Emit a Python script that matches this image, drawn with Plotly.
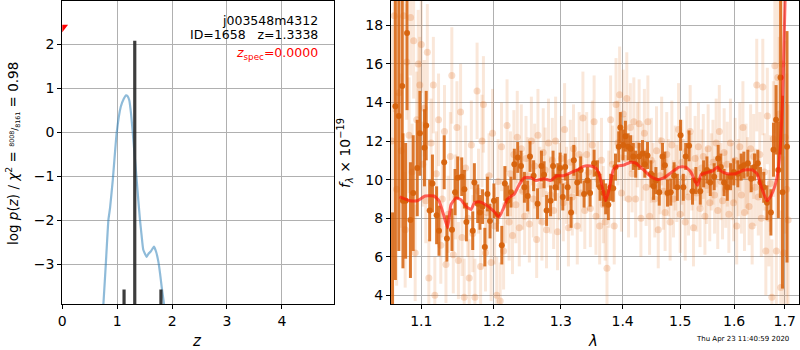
import plotly.graph_objects as go

# ---------------- left panel: p(z) ----------------
pz_z = [0.74, 0.75, 0.79, 0.84, 0.87, 0.92, 0.99, 1.065, 1.12, 1.16, 1.19, 1.22, 1.25, 1.28,
        1.32, 1.355, 1.385, 1.415, 1.445, 1.475, 1.537, 1.57, 1.61, 1.67, 1.71, 1.75, 1.78,
        1.81, 1.85, 1.86]
pz_logp = [-4.05, -3.88, -3.05, -1.99, -1.72, -1.08, -0.02, 0.58, 0.76, 0.84, 0.82, 0.73, 0.45, 0.05,
           -0.55, -1.08, -1.55, -1.99, -2.35, -2.67, -2.83, -2.76, -2.71, -2.6, -2.72, -2.94, -3.2,
           -3.51, -3.88, -4.05]
bar_z = [1.125, 1.32, 1.797]
bar_top = [-3.57, 2.08, -3.57]
zspec_marker = [0.0, 2.39]

# ---------------- right panel: spectrum ----------------
dark_lam = [1.0628, 1.0664, 1.0708, 1.0752, 1.0761, 1.0796, 1.0814, 1.0858, 1.0894, 1.0947, 1.0982,
            1.1042, 1.1065, 1.1111, 1.1148, 1.1204, 1.1236, 1.1306, 1.1343, 1.1412, 1.1454, 1.1491,
            1.1546, 1.1583, 1.1611, 1.1699, 1.1722, 1.1769, 1.1801, 1.1838, 1.1870, 1.1907, 1.1944,
            1.2000, 1.2050, 1.2114, 1.2158, 1.2198, 1.2248, 1.2297, 1.2347, 1.2396, 1.2446, 1.2495,
            1.2530, 1.2584, 1.2644, 1.2703, 1.2743, 1.2782, 1.2842, 1.2881, 1.2916, 1.2955, 1.2990,
            1.3032, 1.3070, 1.3108, 1.3162, 1.3205, 1.3259, 1.3314, 1.3368, 1.3422, 1.3465, 1.3530,
            1.3584, 1.3627, 1.3681, 1.3719, 1.3762, 1.3800, 1.3843, 1.3881, 1.3935, 1.3962, 1.4006,
            1.4047, 1.4093, 1.4134, 1.4180, 1.4221, 1.4279, 1.4337, 1.4378, 1.4424, 1.4483, 1.4529,
            1.4570, 1.4628, 1.4686, 1.4727, 1.4773, 1.4831, 1.4890, 1.4948, 1.5006, 1.5056, 1.5099,
            1.5160, 1.5222, 1.5284, 1.5364, 1.5426, 1.5488, 1.5550, 1.5623, 1.5698, 1.5747, 1.5809,
            1.5870, 1.5932, 1.5994, 1.6071, 1.6136, 1.6188, 1.6266, 1.6331, 1.6396, 1.6461, 1.6513,
            1.6578, 1.6643, 1.6721, 1.6773, 1.6825, 1.6870, 1.6916, 1.6955, 1.7047]
dark_flux = [3.0, 13.8, 13.3, 14.85, 8.9, 8.9, 17.6, 7.9, 9.3, 10.6, 12.4,
             11.65, 12.8, 8.4, 9.8, 8.15, 7.35, 10.9, 6.95, 7.4, 9.35, 10.1,
             10.15, 9.5, 7.8, 7.35, 9.85, 8.75, 8.3, 8.6, 6.5, 9.25, 7.85,
             8.9, 8.2, 6.6, 9.8, 8.9, 9.35, 10.8, 11.15, 10.7, 9.6, 9.15,
             11.2, 10.2, 8.75, 10.7, 10.25, 8.4, 8.9, 10.7, 9.6, 10.15, 10.6,
             9.1, 10.65, 9.6, 8.3, 11.0, 9.85, 10.5, 9.25, 9.95, 9.3, 10.85,
             10.3, 9.6, 9.3, 9.0, 8.7, 9.6, 9.55, 10.65, 11.7, 12.7, 11.8,
             12.25, 11.7, 11.6, 11.2, 10.8, 11.2, 11.35, 10.8, 11.25, 10.3, 9.65,
             9.95, 9.35, 11.2, 10.75, 9.3, 9.35, 10.2, 9.6, 12.3, 9.6, 11.2,
             11.75, 9.4, 9.95, 9.4, 10.3, 10.5, 9.85, 10.15, 11.1, 10.65, 9.85,
             9.6, 10.15, 10.4, 10.3, 10.65, 10.75, 10.85, 10.05, 10.65, 10.85, 9.85,
             9.6, 8.8, 8.3, 11.55, 13.1, 10.5, 15.3, 9.35, 11.7]
dark_err = [5.3, 9.0, 7.0, 6.0, 3.5, 3.0, 4.0, 3.0, 3.0, 2.5, 2.2,
            2.0, 1.8, 1.6, 1.5, 1.5, 1.3, 1.4, 1.2, 1.1, 1.2, 1.1,
            1.0, 1.0, 1.0, 1.0, 1.0, 1.0, 0.9, 0.9, 1.0, 0.9, 0.9,
            0.9, 0.9, 1.0, 0.9, 0.8, 0.8, 0.8, 0.8, 0.8, 0.8, 0.8,
            0.8, 0.8, 0.8, 0.8, 0.7, 0.8, 0.8, 0.8, 0.7, 0.7, 0.8,
            0.7, 0.7, 0.7, 0.8, 0.8, 0.7, 0.7, 0.7, 0.7, 0.7, 0.7,
            0.7, 0.7, 0.7, 0.8, 0.8, 0.7, 0.7, 0.7, 0.8, 0.8, 0.8,
            0.8, 0.7, 0.7, 0.7, 0.7, 0.7, 0.7, 0.7, 0.7, 0.7, 0.7,
            0.7, 0.7, 0.7, 0.7, 0.7, 0.7, 0.7, 0.7, 0.8, 0.7, 0.7,
            0.8, 0.7, 0.7, 0.7, 0.7, 0.7, 0.7, 0.7, 0.7, 0.7, 0.7,
            0.7, 0.7, 0.7, 0.7, 0.7, 0.7, 0.7, 0.7, 0.7, 0.7, 0.8,
            0.8, 0.9, 1.2, 1.4, 1.8, 2.5, 4.0, 5.0, 6.0]

light_lam = [1.062, 1.065, 1.068, 1.071, 1.074, 1.077, 1.079, 1.081, 1.084, 1.086, 1.088, 1.090,
             1.092, 1.094, 1.096, 1.098, 1.100, 1.102, 1.104, 1.106, 1.108, 1.110, 1.113, 1.116,
             1.118, 1.120, 1.123, 1.126, 1.128, 1.131, 1.133, 1.136, 1.139, 1.141, 1.143, 1.146,
             1.148, 1.150, 1.153, 1.155, 1.158, 1.160, 1.163, 1.165, 1.168, 1.170, 1.173, 1.176,
             1.178, 1.181, 1.183, 1.185, 1.188, 1.190, 1.193, 1.196, 1.198, 1.201, 1.204, 1.206,
             1.209, 1.211, 1.214, 1.217, 1.219, 1.222, 1.224, 1.227, 1.229, 1.232, 1.234, 1.237,
             1.240, 1.242, 1.245, 1.247, 1.250, 1.252, 1.255, 1.258, 1.260, 1.263, 1.265, 1.268,
             1.271, 1.273, 1.276, 1.278, 1.281, 1.284, 1.287, 1.289, 1.292, 1.295, 1.298, 1.301,
             1.304, 1.306, 1.309, 1.312, 1.315, 1.318, 1.320, 1.323, 1.326, 1.329, 1.332, 1.335,
             1.338, 1.341, 1.344, 1.347, 1.350, 1.353, 1.356, 1.359, 1.362, 1.365, 1.368, 1.371,
             1.374, 1.377, 1.380, 1.383, 1.386, 1.389, 1.392, 1.395, 1.398, 1.401, 1.404, 1.407,
             1.410, 1.413, 1.416, 1.419, 1.422, 1.425, 1.428, 1.431, 1.434, 1.437, 1.440, 1.443,
             1.446, 1.449, 1.452, 1.455, 1.458, 1.461, 1.464, 1.467, 1.470, 1.473, 1.476, 1.479,
             1.482, 1.485, 1.488, 1.491, 1.494, 1.497, 1.500, 1.503, 1.506, 1.509, 1.512, 1.515,
             1.518, 1.521, 1.524, 1.527, 1.530, 1.533, 1.536, 1.539, 1.542, 1.545, 1.548, 1.551,
             1.554, 1.557, 1.560, 1.563, 1.566, 1.569, 1.572, 1.575, 1.578, 1.581, 1.584, 1.587,
             1.590, 1.593, 1.596, 1.599, 1.602, 1.605, 1.608, 1.611, 1.614, 1.617, 1.620, 1.623,
             1.626, 1.629, 1.632, 1.635, 1.638, 1.641, 1.644, 1.647, 1.650, 1.653, 1.656, 1.659,
             1.662, 1.665, 1.668, 1.671, 1.674, 1.677, 1.680, 1.683, 1.686, 1.689, 1.692, 1.695,
             1.698, 1.701, 1.704, 1.707]
light_flux = [12.0, 18.5, 9.5, 14.5, 11.5, 18.5, 7.4, 16.1, 12.3, 18.4, 10.4, 17.2,
              6.2, 13.1, 16.0, 14.9, 17.0, 10.8, 13.7, 8.9, 16.6, 4.9, 11.9, 14.9,
              4.0, 10.3, 13.1, 6.6, 9.0, 12.5, 5.6, 8.2, 11.2, 15.4, 6.1, 9.1,
              12.7, 5.8, 13.5, 7.0, 3.9, 10.6, 8.0, 4.9, 11.8, 7.2, 3.9, 14.6,
              9.4, 5.5, 12.0, 13.9, 6.2, 8.3, 10.2, 5.7, 12.4, 7.6, 4.0, 9.9,
              3.7, 11.7, 6.3, 8.7, 12.8, 7.8, 10.3, 7.1, 11.3, 8.7, 12.2, 7.5,
              11.6, 9.4, 8.1, 11.1, 10.2, 7.7, 12.0, 9.0, 10.7, 6.9, 12.3, 9.7,
              7.8, 11.4, 10.5, 7.4, 11.9, 9.2, 11.0, 8.4, 12.0, 7.3, 9.9, 11.1,
              8.8, 12.6, 9.7, 7.5, 10.9, 9.1, 11.6, 10.2, 7.6, 11.3, 9.3, 13.2,
              8.4, 11.3, 10.4, 8.5, 11.8, 13.0, 8.1, 10.0, 7.6, 11.0, 8.7, 7.8,
              5.4, 9.5, 13.1, 10.8, 7.6, 13.9, 11.9, 14.4, 9.3, 13.4, 11.1, 14.2,
              9.0, 12.7, 10.3, 13.0, 9.0, 11.8, 12.9, 8.0, 10.9, 12.4, 9.6, 13.0,
              8.1, 11.0, 9.9, 9.0, 11.5, 7.4, 10.2, 12.0, 9.4, 8.3, 11.3, 10.1,
              7.8, 11.8, 9.0, 10.6, 9.8, 12.6, 8.2, 10.9, 10.1, 7.8, 11.5, 9.1,
              12.5, 10.4, 7.5, 11.1, 9.3, 11.7, 8.5, 10.6, 11.2, 8.1, 9.7, 11.6,
              8.8, 10.4, 10.9, 9.2, 11.9, 8.4, 12.5, 9.9, 8.9, 11.4, 9.5, 10.8,
              8.2, 11.9, 9.9, 8.8, 11.0, 7.6, 10.1, 11.7, 9.2, 12.7, 8.3, 10.7,
              10.2, 8.6, 11.6, 7.6, 11.2, 9.6, 14.9, 9.1, 11.3, 8.0, 14.8, 10.4,
              6.3, 13.3, 8.0, 9.8, 3.9, 12.1, 15.9, 6.3, 15.3, 13.4, 4.4, 16.0,
              6.2, 12.2, 9.5, 7.9]
light_err = [6.0, 5.0, 5.0, 4.0, 4.0, 3.5, 3.0, 3.0, 3.0, 3.0, 2.5, 3.0,
             2.5, 2.5, 2.8, 2.5, 2.5, 2.2, 2.5, 2.2, 2.5, 2.0, 2.3, 2.5,
             2.0, 2.2, 2.4, 2.0, 2.0, 2.4, 2.0, 2.0, 2.3, 2.5, 2.0, 2.2,
             2.4, 2.0, 2.5, 2.0, 2.0, 2.2, 2.0, 2.0, 2.3, 2.0, 2.0, 2.5,
             2.2, 2.0, 2.4, 2.5, 2.0, 2.0, 2.2, 2.0, 2.3, 2.0, 2.0, 2.2,
             2.0, 2.3, 2.0, 2.0, 2.4, 2.0, 2.2, 2.0, 2.3, 2.0, 2.4, 2.0,
             2.3, 2.0, 2.0, 2.2, 2.0, 2.0, 2.3, 2.0, 2.2, 2.0, 2.4, 2.0,
             2.0, 2.3, 2.2, 2.0, 2.3, 2.0, 2.2, 2.0, 2.3, 2.0, 2.0, 2.2,
             2.0, 2.4, 2.0, 2.0, 2.2, 2.0, 2.3, 2.0, 2.0, 2.2, 2.0, 2.4,
             2.0, 2.2, 2.0, 2.0, 2.3, 2.4, 2.0, 2.0, 2.0, 2.2, 2.0, 2.0,
             2.2, 2.0, 2.3, 2.0, 2.0, 2.4, 2.2, 2.5, 2.0, 2.3, 2.2, 2.4,
             2.0, 2.3, 2.0, 2.3, 2.0, 2.2, 2.3, 2.0, 2.0, 2.3, 2.0, 2.4,
             2.0, 2.2, 2.0, 2.0, 2.3, 2.0, 2.0, 2.3, 2.0, 2.0, 2.2, 2.0,
             2.0, 2.3, 2.0, 2.2, 2.0, 2.4, 2.0, 2.2, 2.0, 2.0, 2.3, 2.0,
             2.4, 2.0, 2.0, 2.2, 2.0, 2.3, 2.0, 2.0, 2.2, 2.0, 2.0, 2.3,
             2.0, 2.0, 2.2, 2.0, 2.3, 2.0, 2.4, 2.0, 2.0, 2.3, 2.0, 2.2,
             2.0, 2.3, 2.0, 2.0, 2.2, 2.0, 2.0, 2.3, 2.0, 2.4, 2.0, 2.2,
             2.0, 2.0, 2.3, 2.0, 2.2, 2.0, 2.4, 2.0, 2.2, 2.0, 2.5, 2.0,
             2.3, 2.5, 2.5, 2.5, 3.0, 3.0, 3.5, 3.5, 4.0, 4.0, 4.0, 5.0,
             5.0, 5.0, 6.0, 6.0]

model_lam = [1.0717, 1.0850, 1.0947, 1.1051, 1.1167, 1.1236, 1.1296, 1.1352, 1.1398, 1.1468,
             1.1537, 1.1606, 1.1676, 1.1722, 1.1792, 1.1884, 1.2000, 1.2074, 1.2124, 1.2198,
             1.2297, 1.2371, 1.2446, 1.2545, 1.2619, 1.2743, 1.2842, 1.2941, 1.3043, 1.3151,
             1.3259, 1.3368, 1.3476, 1.3557, 1.3611, 1.3665, 1.3719, 1.3773, 1.3843, 1.3908,
             1.4017, 1.4134, 1.4221, 1.4337, 1.4483, 1.4599, 1.4715, 1.4831, 1.4977, 1.5099,
             1.5191, 1.5272, 1.5315, 1.5377, 1.5469, 1.5593, 1.5685, 1.5747, 1.5870, 1.6026,
             1.6188, 1.6350, 1.6448, 1.6545, 1.6643, 1.6721, 1.6805, 1.6870, 1.6916, 1.6955,
             1.6987, 1.7019, 1.7040]
model_flux = [9.1, 8.9, 8.9, 9.15, 9.15, 8.9, 8.2, 7.5, 8.7, 9.05,
              8.95, 8.6, 8.45, 8.8, 8.85, 8.7, 8.35, 8.05, 8.4, 9.0,
              9.25, 9.75, 10.1, 10.1, 9.95, 10.05, 9.95, 10.2, 10.2, 10.35,
              10.5, 10.7, 10.7, 10.6, 10.3, 9.6, 8.9, 9.45, 10.5, 10.7,
              10.75, 10.9, 10.85, 10.55, 10.15, 10.0, 10.1, 10.35, 10.65, 10.65,
              10.4, 9.9, 9.7, 10.25, 10.35, 10.45, 10.65, 10.45, 10.3, 10.3,
              10.5, 10.5, 10.3, 9.5, 8.9, 9.15, 9.7, 10.5, 11.9, 14.1,
              17.2, 20.5, 23.0]

x_ticks_right = [1.1, 1.2, 1.3, 1.4, 1.5, 1.6, 1.7]
y_ticks_right = [4, 6, 8, 10, 12, 14, 16, 18]
x_ticks_left = [0, 1, 2, 3, 4]
y_ticks_left = [-3, -2, -1, 0, 1, 2]

W, H = 800, 350
FONT = "DejaVu Sans"

fig = go.Figure()

# left panel traces
fig.add_trace(go.Scatter(x=pz_z, y=pz_logp, mode="lines",
                         line=dict(color="rgba(31,119,180,0.5)", width=2.2, shape="spline", smoothing=0.4),
                         xaxis="x", yaxis="y", showlegend=False, hoverinfo="skip"))
for zb, tb in zip(bar_z, bar_top):
    fig.add_trace(go.Scatter(x=[zb, zb], y=[-5, tb], mode="lines", line=dict(color="rgba(40,40,40,0.9)", width=3.2),
                             xaxis="x", yaxis="y", showlegend=False, hoverinfo="skip"))
fig.add_trace(go.Scatter(x=[zspec_marker[0]], y=[zspec_marker[1]], mode="markers",
                         marker=dict(symbol="triangle-down", size=10, color="red", line=dict(width=0)),
                         xaxis="x", yaxis="y", showlegend=False, cliponaxis=True, hoverinfo="skip"))

# right panel traces
fig.add_trace(go.Scatter(x=light_lam, y=light_flux, mode="markers",
                         marker=dict(size=7, color="rgba(225,110,30,0.24)", line=dict(width=0)),
                         error_y=dict(type="data", array=light_err, visible=True, color="rgba(225,110,30,0.17)", thickness=3, width=0),
                         xaxis="x2", yaxis="y2", showlegend=False, hoverinfo="skip"))
fig.add_trace(go.Scatter(x=dark_lam, y=dark_flux, mode="markers",
                         marker=dict(size=6, color="rgba(214,98,12,0.95)", line=dict(width=0)),
                         error_y=dict(type="data", array=dark_err, visible=True, color="rgba(214,98,12,0.85)", thickness=3, width=0),
                         xaxis="x2", yaxis="y2", showlegend=False, hoverinfo="skip"))
fig.add_trace(go.Scatter(x=model_lam, y=model_flux, mode="lines",
                         line=dict(color="rgba(255,20,10,0.65)", width=3, shape="spline", smoothing=0.4),
                         xaxis="x2", yaxis="y2", showlegend=False, hoverinfo="skip"))

ax_common = dict(showline=True, linecolor="black", linewidth=1.2, mirror=True, ticks="outside", ticklen=4,
                 tickcolor="black", tickwidth=1, showgrid=True, gridcolor="#b0b0b0", gridwidth=1,
                 zeroline=False, automargin=False, tickfont=dict(family=FONT, size=14, color="black"))

ytop = 1 - 1 / H
ybot = 1 - 304 / H
fig.update_layout(
    width=W, height=H, margin=dict(l=0, r=0, t=0, b=0, pad=0), autosize=False,
    paper_bgcolor="white", plot_bgcolor="white",
    xaxis=dict(domain=[62.3 / W, 334.3 / W], range=[0, 4.955], tickvals=x_ticks_left, anchor="y", **ax_common),
    yaxis=dict(domain=[ybot, ytop], range=[-3.902, 2.984], tickvals=y_ticks_left, anchor="x", **ax_common),
    xaxis2=dict(domain=[391 / W, 799 / W], type="log", range=[0.02564, 0.23788], tickvals=x_ticks_right,
                ticktext=[f"{v:.1f}" for v in x_ticks_right], anchor="y2", **ax_common),
    yaxis2=dict(domain=[ybot, ytop], range=[3.55, 19.26], tickvals=y_ticks_right, anchor="x2", **ax_common),
)


def px(x):
    return x / W


def py(y):
    return 1 - y / H


ann = [
    dict(x=px(320), y=py(20), text="j003548m4312", xanchor="right", yanchor="middle", font=dict(size=12.5, color="black")),
    dict(x=px(320), y=py(35), text="ID=1658   z=1.3338", xanchor="right", yanchor="middle", font=dict(size=12.5, color="black")),
    dict(x=px(320), y=py(54), text="<i>z</i><sub>spec</sub>=0.0000", xanchor="right", yanchor="middle", font=dict(size=12.5, color="red")),
    dict(x=px(197), y=py(341), text="<i>z</i>", xanchor="center", yanchor="middle", font=dict(size=15, color="black")),
    dict(x=px(593), y=py(341), text="<i>λ</i>", xanchor="center", yanchor="middle", font=dict(size=15, color="black")),
    dict(x=px(12), y=py(154),
         text="log <i>p</i>(<i>z</i>) / <i>χ</i><sup>2</sup> = <span style='font-size:9px'><sup>8008</sup>/<sub>8161</sub></span> = 0.98",
         textangle=-90, xanchor="center", yanchor="middle", font=dict(size=13.5, color="black")),
    dict(x=px(345), y=py(153), text="<i>f</i><sub><i>λ</i></sub> × 10<sup>−19</sup>",
         textangle=-90, xanchor="center", yanchor="middle", font=dict(size=14, color="black")),
    dict(x=px(742), y=py(339), text="Thu Apr 23 11:40:59 2020", xanchor="center", yanchor="middle", font=dict(size=7, color="black")),
]
for a in ann:
    a.update(xref="paper", yref="paper", showarrow=False)
    a["font"]["family"] = FONT
fig.update_layout(annotations=ann)

fig.write_html("out.html")
